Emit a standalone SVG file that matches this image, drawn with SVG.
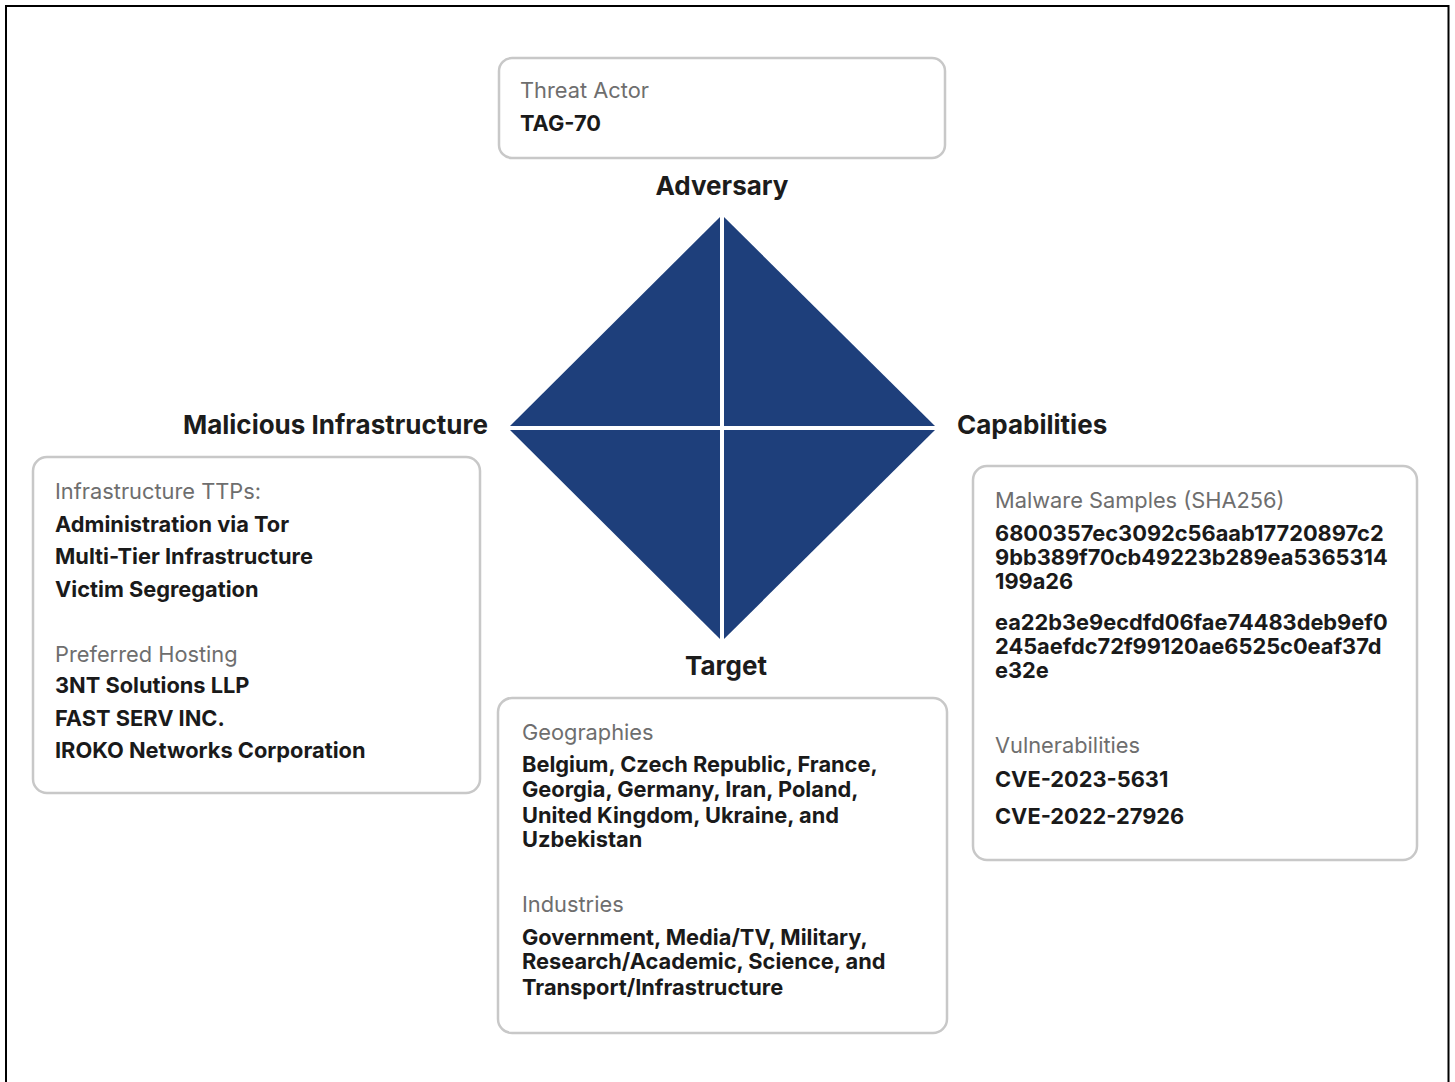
<svg xmlns="http://www.w3.org/2000/svg" width="1455" height="1082" viewBox="0 0 1455 1082">
  <style>
    .card { fill: #ffffff; stroke: #c8c8c8; stroke-width: 2.5; }
    .title { font-family: Inter, "Liberation Sans", sans-serif; font-size: 26px; font-weight: 700; fill: #1c1c1c; }
    .label { font-family: Inter, "Liberation Sans", sans-serif; font-size: 21.8px; font-weight: 400; fill: #6e6e6e; }
    .value { font-family: Inter, "Liberation Sans", sans-serif; font-size: 21.8px; font-weight: 700; fill: #1a1a1a; }
    .split { stroke: #ffffff; stroke-width: 4; }
  </style>

  <rect x="0" y="0" width="1455" height="1082" fill="#ffffff"/>
  <!-- outer frame, open at the bottom -->
  <path d="M6,1082 V6 H1448.5 V1082" fill="none" stroke="#000000" stroke-width="2"/>

  <!-- diamond model -->
  <g id="diamond">
    <polygon points="722,215 937,428 722,641 508,428" fill="#1e3f7b"/>
    <line class="split" x1="722" y1="212" x2="722" y2="645"/>
    <line class="split" x1="505" y1="428" x2="940" y2="428"/>
  </g>

  <!-- vertex titles -->
  <g id="vertex-labels">
    <text class="title" x="722" y="195" text-anchor="middle">Adversary</text>
    <text class="title" x="488" y="434" text-anchor="end">Malicious Infrastructure</text>
    <text class="title" x="957" y="434">Capabilities</text>
    <text class="title" x="726" y="675" text-anchor="middle">Target</text>
  </g>

  <g id="adversary">
    <rect class="card" x="499" y="58" width="446" height="100" rx="13"/>
    <text class="label" x="520" y="98">Threat Actor</text>
    <text class="value" x="520" y="131">TAG-70</text>
  </g>

  <g id="infrastructure">
    <rect class="card" x="33" y="457" width="447" height="336" rx="14"/>
    <text class="label" x="55" y="499">Infrastructure TTPs:</text>
    <text class="value" x="55" y="532">Administration via Tor</text>
    <text class="value" x="55" y="564">Multi-Tier Infrastructure</text>
    <text class="value" x="55" y="597">Victim Segregation</text>
    <text class="label" x="55" y="662">Preferred Hosting</text>
    <text class="value" x="55" y="693">3NT Solutions LLP</text>
    <text class="value" x="55" y="726">FAST SERV INC.</text>
    <text class="value" x="55" y="758">IROKO Networks Corporation</text>
  </g>

  <g id="capabilities">
    <rect class="card" x="973" y="466" width="444" height="394" rx="14"/>
    <text class="label" x="995" y="508">Malware Samples (SHA256)</text>
    <text class="value" x="995" y="541">6800357ec3092c56aab17720897c2</text>
    <text class="value" x="995" y="565">9bb389f70cb49223b289ea5365314</text>
    <text class="value" x="995" y="589">199a26</text>
    <text class="value" x="995" y="630">ea22b3e9ecdfd06fae74483deb9ef0</text>
    <text class="value" x="995" y="654">245aefdc72f99120ae6525c0eaf37d</text>
    <text class="value" x="995" y="678">e32e</text>
    <text class="label" x="995" y="753">Vulnerabilities</text>
    <text class="value" x="995" y="787">CVE-2023-5631</text>
    <text class="value" x="995" y="824">CVE-2022-27926</text>
  </g>

  <g id="target">
    <rect class="card" x="498" y="698" width="449" height="335" rx="14"/>
    <text class="label" x="522" y="740">Geographies</text>
    <text class="value" x="522" y="772">Belgium, Czech Republic, France,</text>
    <text class="value" x="522" y="797">Georgia, Germany, Iran, Poland,</text>
    <text class="value" x="522" y="823">United Kingdom, Ukraine, and</text>
    <text class="value" x="522" y="847">Uzbekistan</text>
    <text class="label" x="522" y="912">Industries</text>
    <text class="value" x="522" y="945">Government, Media/TV, Military,</text>
    <text class="value" x="522" y="969">Research/Academic, Science, and</text>
    <text class="value" x="522" y="995">Transport/Infrastructure</text>
  </g>

  <!-- no connectors beyond the diamond itself -->
  <g id="connectors"/>
</svg>
